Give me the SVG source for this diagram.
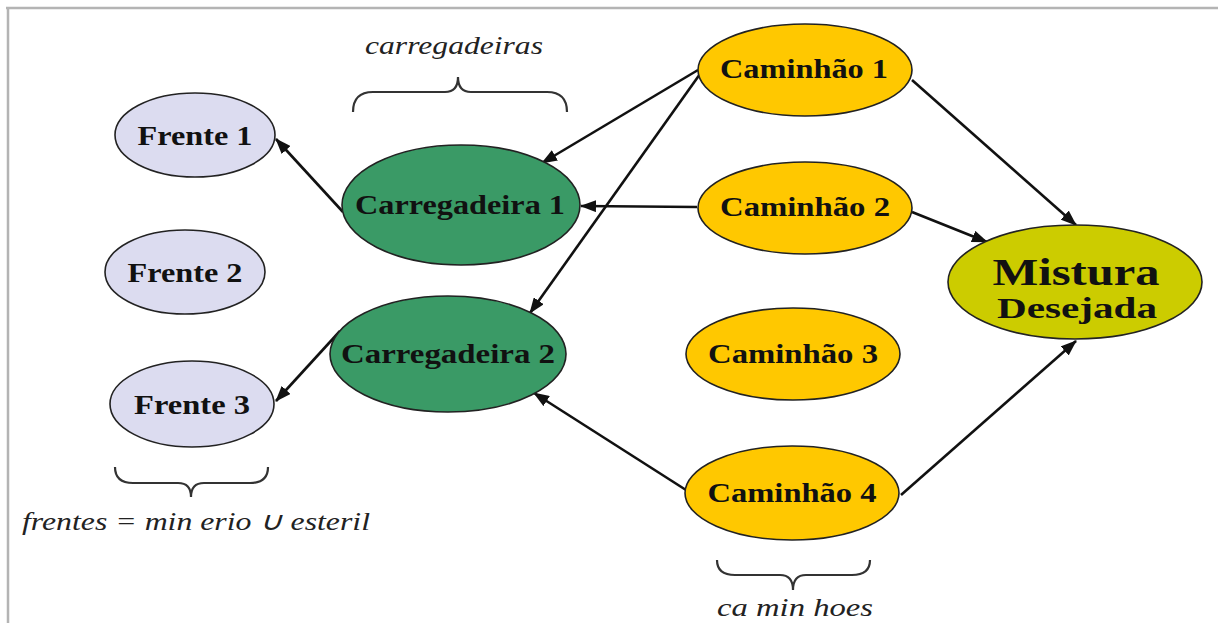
<svg xmlns="http://www.w3.org/2000/svg" width="1218" height="623" viewBox="0 0 1218 623">
<style>
.node{stroke:#222;stroke-width:1.6}
.fr{fill:#dcdcf0}
.ca{fill:#3a9a66}
.tr{fill:#ffc800}
.mx{fill:#cccc00}
.lbl{font-family:"Liberation Serif","Times New Roman",serif;font-weight:bold;font-size:28px;fill:#111;text-anchor:middle}
.it{font-family:"Liberation Serif","Times New Roman",serif;font-style:italic;font-size:26px;fill:#222}
.edge{stroke:#111;stroke-width:2.6;fill:none;marker-end:url(#ah)}
.brace{stroke:#333;stroke-width:2.2;fill:none}
</style>
<defs>
<marker id="ah" markerWidth="16" markerHeight="12" refX="15" refY="6" orient="auto" markerUnits="userSpaceOnUse">
<path d="M0,0 L16,6 L0,12 Z" fill="#111"/>
</marker>
</defs>
<rect width="1218" height="623" fill="#fff"/>
<path d="M6,8 H1218 M8,8 V623" stroke="#b4b4b4" stroke-width="2.5" fill="none"/>

<g id="connectors">
<line class="edge" x1="343" y1="212" x2="276" y2="139"/>
<line class="edge" x1="698" y1="70" x2="542" y2="163"/>
<line class="edge" x1="700" y1="74" x2="530" y2="313"/>
<line class="edge" x1="697" y1="207" x2="581" y2="206"/>
<line class="edge" x1="912" y1="80" x2="1076" y2="225"/>
<line class="edge" x1="912" y1="212" x2="987" y2="242"/>
<line class="edge" x1="340" y1="331" x2="276" y2="401"/>
<line class="edge" x1="686" y1="490" x2="534" y2="393"/>
<line class="edge" x1="901" y1="495" x2="1076" y2="341"/>
</g>

<g id="frente1"><ellipse class="node fr" cx="195" cy="135" rx="80" ry="42"/><text class="lbl" x="195" y="145" textLength="115" lengthAdjust="spacingAndGlyphs">Frente 1</text></g>
<g id="frente2"><ellipse class="node fr" cx="185" cy="272" rx="80" ry="42"/><text class="lbl" x="185" y="282" textLength="115" lengthAdjust="spacingAndGlyphs">Frente 2</text></g>
<g id="frente3"><ellipse class="node fr" cx="192" cy="404" rx="82" ry="43"/><text class="lbl" x="192" y="414" textLength="116" lengthAdjust="spacingAndGlyphs">Frente 3</text></g>

<g id="carregadeira1"><ellipse class="node ca" cx="461" cy="205" rx="119" ry="60"/><text class="lbl" x="460" y="214" textLength="210" lengthAdjust="spacingAndGlyphs">Carregadeira 1</text></g>
<g id="carregadeira2"><ellipse class="node ca" cx="448" cy="354" rx="118" ry="58"/><text class="lbl" x="448" y="363" textLength="214" lengthAdjust="spacingAndGlyphs">Carregadeira 2</text></g>

<g id="caminhao1"><ellipse class="node tr" cx="805" cy="70" rx="107" ry="46"/><text class="lbl" x="804" y="78" textLength="168" lengthAdjust="spacingAndGlyphs">Caminhão 1</text></g>
<g id="caminhao2"><ellipse class="node tr" cx="805" cy="208" rx="107" ry="46"/><text class="lbl" x="805" y="216" textLength="170" lengthAdjust="spacingAndGlyphs">Caminhão 2</text></g>
<g id="caminhao3"><ellipse class="node tr" cx="793" cy="354" rx="107" ry="46"/><text class="lbl" x="793" y="363" textLength="170" lengthAdjust="spacingAndGlyphs">Caminhão 3</text></g>
<g id="caminhao4"><ellipse class="node tr" cx="792" cy="493" rx="107" ry="47"/><text class="lbl" x="792" y="502" textLength="169" lengthAdjust="spacingAndGlyphs">Caminhão 4</text></g>

<g id="mistura"><ellipse class="node mx" cx="1075" cy="282" rx="127" ry="57"/>
<text class="lbl" x="1076" y="285" style="font-size:38px" textLength="167" lengthAdjust="spacingAndGlyphs">Mistura</text>
<text class="lbl" x="1077" y="318" style="font-size:30px" textLength="160" lengthAdjust="spacingAndGlyphs">Desejada</text></g>

<g id="labels">
<path class="brace" d="M353,112 Q353,92 373,92 L445,92 Q458,92 458,77 Q458,92 471,92 L547,92 Q567,92 567,112"/>
<text class="it" x="365" y="54" textLength="178" lengthAdjust="spacingAndGlyphs">carregadeiras</text>
<path class="brace" d="M115,467 Q115,483 133,483 L178,483 Q191,483 191,497 Q191,483 204,483 L250,483 Q268,483 268,467"/>
<text class="it" x="22" y="530" textLength="348" lengthAdjust="spacingAndGlyphs">frentes = min erio ∪ esteril</text>
<path class="brace" d="M717,560 Q717,575 735,575 L780,575 Q793,575 793,590 Q793,575 806,575 L852,575 Q870,575 870,560"/>
<text class="it" x="717" y="616" textLength="156" lengthAdjust="spacingAndGlyphs">ca min hoes</text>
</g>
</svg>
